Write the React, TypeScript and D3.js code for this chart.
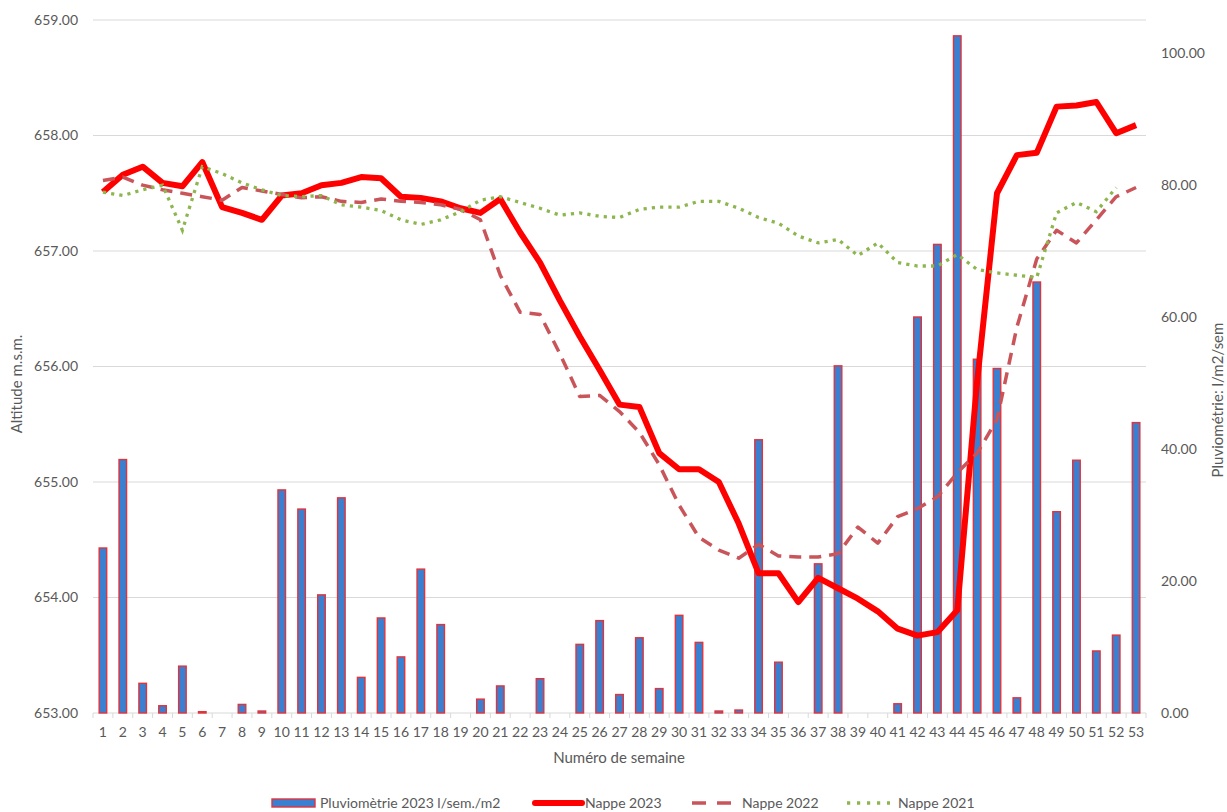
import React from 'react';
import * as d3 from 'd3';

const weeks: number[] = [1,2,3,4,5,6,7,8,9,10,11,12,13,14,15,16,17,18,19,20,21,22,23,24,25,26,27,28,29,30,31,32,33,34,35,36,37,38,39,40,41,42,43,44,45,46,47,48,49,50,51,52,53];

const pluvio2023: number[] = [25.0, 38.4, 4.5, 1.1, 7.1, 0.2, 0, 1.3, 0.3, 33.8, 30.9, 17.9, 32.6, 5.4, 14.4, 8.5, 21.8, 13.4, 0, 2.1, 4.1, 0, 5.2, 0, 10.4, 14.0, 2.8, 11.4, 3.7, 14.8, 10.7, 0.3, 0.45, 41.4, 7.7, 0, 22.6, 52.6, 0, 0, 1.4, 60.0, 71.0, 102.6, 53.6, 52.2, 2.3, 65.3, 30.5, 38.3, 9.4, 11.8, 44.0];

const nappe2023: number[] = [657.51, 657.66, 657.73, 657.59, 657.56, 657.77, 657.38, 657.33, 657.27, 657.48, 657.50, 657.57, 657.59, 657.64, 657.63, 657.47, 657.46, 657.43, 657.37, 657.33, 657.45, 657.16, 656.90, 656.57, 656.26, 655.97, 655.67, 655.65, 655.25, 655.11, 655.11, 655.00, 654.64, 654.21, 654.21, 653.96, 654.17, 654.08, 653.99, 653.88, 653.73, 653.67, 653.70, 653.89, 655.87, 657.50, 657.83, 657.85, 658.25, 658.26, 658.29, 658.02, 658.09];

const nappe2022: number[] = [657.61, 657.64, 657.57, 657.53, 657.50, 657.47, 657.44, 657.55, 657.52, 657.49, 657.46, 657.47, 657.43, 657.42, 657.45, 657.43, 657.42, 657.40, 657.36, 657.27, 656.79, 656.47, 656.45, 656.11, 655.74, 655.75, 655.61, 655.43, 655.15, 654.80, 654.52, 654.41, 654.34, 654.46, 654.36, 654.35, 654.35, 654.38, 654.61, 654.47, 654.70, 654.77, 654.87, 655.08, 655.25, 655.54, 656.34, 656.93, 657.18, 657.07, 657.27, 657.47, 657.55];

const nappe2021: (number | null)[] = [657.51, 657.48, 657.53, 657.57, 657.18, 657.73, 657.67, 657.59, 657.53, 657.48, 657.47, 657.48, 657.40, 657.38, 657.35, 657.27, 657.23, 657.27, 657.34, 657.44, 657.47, 657.42, 657.37, 657.31, 657.33, 657.30, 657.29, 657.36, 657.38, 657.38, 657.43, 657.43, 657.37, 657.29, 657.24, 657.13, 657.07, 657.10, 656.96, 657.07, 656.90, 656.87, 656.87, 656.97, 656.84, 656.81, 656.79, 656.77, 657.33, 657.42, 657.34, 657.55, null];

const leftTicks: number[] = [653, 654, 655, 656, 657, 658, 659];
const rightTicks: number[] = [0, 20, 40, 60, 80, 100];

const seriesNames = {
  bars: 'Pluviomètrie 2023 l/sem./m2',
  n2023: 'Nappe 2023',
  n2022: 'Nappe 2022',
  n2021: 'Nappe 2021',
};

const FONT = "Lato, 'Open Sans', 'DejaVu Sans', sans-serif";
const TXT = '#595959';
const GRID = '#d9d9d9';
const BAR_FILL = '#3a7fd0';
const BAR_STROKE = '#e0343c';
const RED = '#ff0000';
const DASH = '#c9555a';
const DOT = '#8db64e';

export default function App() {
  const W = 1227, H = 812;
  const left = 93, right = 1146, top = 20, bottom = 713;

  const x = d3.scaleBand<number>().domain(weeks).range([left, right]).padding(0);
  const yL = d3.scaleLinear().domain([653, 659]).range([bottom, top]);
  const yR = d3.scaleLinear().domain([0, 105]).range([bottom, top]);
  const cx = (w: number) => (x(w) as number) + x.bandwidth() / 2;
  const barW = x.bandwidth() * 0.38;

  const mkLine = (arr: (number | null)[]) =>
    d3.line<number | null>()
      .defined((d) => d != null)
      .x((_d, i) => cx(weeks[i]))
      .y((d) => yL(d as number))(arr) || '';

  const boundaries = d3.range(weeks.length + 1).map((i) => left + i * x.bandwidth());

  const legY = 803;

  return (
    <svg width={W} height={H} style={{ position: 'absolute', left: 0, top: 0, display: 'block', background: '#fff' }} fontFamily={FONT}>
      <rect x={0} y={0} width={W} height={H} fill="#fff" />
      {/* gridlines */}
      {leftTicks.map((t) => (
        <line key={'g' + t} x1={left} x2={right} y1={yL(t)} y2={yL(t)} stroke={GRID} strokeWidth={1.2} />
      ))}
      {/* x tick marks */}
      {boundaries.map((bx, i) => (
        <line key={'xt' + i} x1={bx} x2={bx} y1={bottom} y2={bottom + 5} stroke={GRID} strokeWidth={1} />
      ))}
      {/* left tick labels */}
      {leftTicks.map((t) => (
        <text key={'lt' + t} x={78} y={yL(t)} dy="0.35em" textAnchor="end" fontSize={14} fill={TXT}>
          {t.toFixed(2)}
        </text>
      ))}
      {/* right tick labels */}
      {rightTicks.map((t) => (
        <text key={'rt' + t} x={1161} y={yR(t)} dy="0.35em" textAnchor="start" fontSize={14} fill={TXT}>
          {t.toFixed(2)}
        </text>
      ))}
      {/* x tick labels */}
      {weeks.map((w) => (
        <text key={'xl' + w} x={cx(w)} y={732} dy="0.35em" textAnchor="middle" fontSize={14} fill={TXT}>
          {w}
        </text>
      ))}
      {/* axis titles */}
      <text x={619} y={758} dy="0.35em" textAnchor="middle" fontSize={15} fill={TXT}>Numéro de semaine</text>
      <text transform={`translate(17,384) rotate(-90)`} dy="0.35em" textAnchor="middle" fontSize={15} fill={TXT}>Altitude m.s.m.</text>
      <text transform={`translate(1218,400) rotate(-90)`} dy="0.35em" textAnchor="middle" fontSize={15} fill={TXT}>Pluviométrie: l/m2/sem</text>

      {/* bars */}
      {pluvio2023.map((v, i) => (
        v > 0 ? (
          <rect key={'b' + i} x={cx(weeks[i]) - barW / 2} y={yR(v)} width={barW} height={Math.max(0, bottom - yR(v))}
            fill={BAR_FILL} stroke={BAR_STROKE} strokeWidth={1.4} />
        ) : null
      ))}

      {/* lines */}
      <path d={mkLine(nappe2023)} fill="none" stroke={RED} strokeWidth={6} strokeLinejoin="round" />
      <path d={mkLine(nappe2022)} fill="none" stroke={DASH} strokeWidth={3.5} strokeDasharray="12,8" strokeLinejoin="round" />
      <path d={mkLine(nappe2021)} fill="none" stroke={DOT} strokeWidth={3.3} strokeDasharray="3.2,5.1" />

      {/* legend */}
      <rect x={272} y={legY - 4} width={43} height={8} fill={BAR_FILL} stroke={BAR_STROKE} strokeWidth={1.4} />
      <text x={320} y={legY} dy="0.35em" fontSize={14} fill={TXT}>{seriesNames.bars}</text>
      <line x1={535} x2={582} y1={legY} y2={legY} stroke={RED} strokeWidth={6} strokeLinecap="round" />
      <text x={585} y={legY} dy="0.35em" fontSize={14} fill={TXT}>{seriesNames.n2023}</text>
      <line x1={692} x2={731} y1={legY} y2={legY} stroke={DASH} strokeWidth={3.5} strokeDasharray="14,11" />
      <text x={742} y={legY} dy="0.35em" fontSize={14} fill={TXT}>{seriesNames.n2022}</text>
      <line x1={847} x2={890} y1={legY} y2={legY} stroke={DOT} strokeWidth={3.3} strokeDasharray="3.2,6.8" />
      <text x={898} y={legY} dy="0.35em" fontSize={14} fill={TXT}>{seriesNames.n2021}</text>
    </svg>
  );
}
